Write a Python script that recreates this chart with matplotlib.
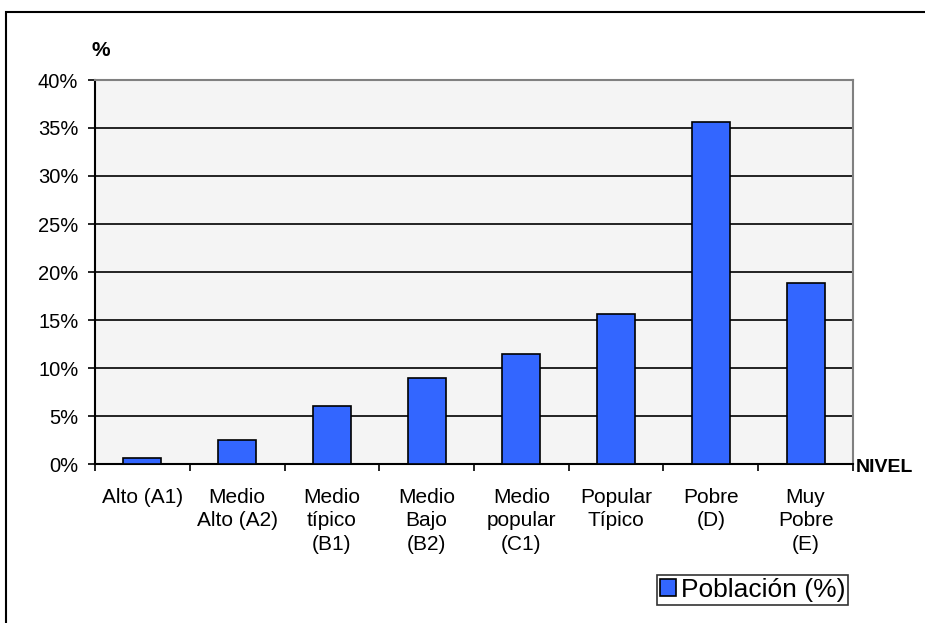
import matplotlib.pyplot as plt
import numpy as np
from matplotlib.patches import Rectangle

plt.rcParams['font.family'] = ['Liberation Sans', 'DejaVu Sans']

# niveles socioeconomicos y porcentaje de poblacion
niveles = ['Alto (A1)', 'Medio\nAlto (A2)', 'Medio\ntípico\n(B1)', 'Medio\nBajo\n(B2)',
           'Medio\npopular\n(C1)', 'Popular\nTípico', 'Pobre\n(D)', 'Muy\nPobre\n(E)']
poblacion = [0.6, 2.5, 6.0, 9.0, 11.5, 15.6, 35.6, 18.9]
yticks = [0, 5, 10, 15, 20, 25, 30, 35, 40]

fig = plt.figure(figsize=(9.25, 6.23), dpi=100)
ax = fig.add_axes([95 / 925, 1 - 464 / 623, 758 / 925, 384 / 623])

# outer chart border (clipped on right/bottom as in the original)
fig.patches.append(Rectangle((6 / 925, -0.1), 1.2, 1 - 12 / 623 + 0.1,
                             transform=fig.transFigure, fill=False,
                             edgecolor='black', linewidth=1.5))

x = np.arange(len(niveles))
ax.set_facecolor('#F4F4F4')
ax.set_axisbelow(True)
ax.yaxis.grid(True, color='black', linewidth=1.2)
ax.bar(x, poblacion, width=0.4, color='#3366FF', edgecolor='black',
       linewidth=1.2, label='Población (%)', zorder=3)

ax.set_xlim(-0.5, len(niveles) - 0.5)
ax.set_ylim(0, 40)
ax.set_yticks(yticks)
ax.set_yticklabels(['%d%%' % v for v in yticks], fontsize=14.5)

# ticks at category boundaries, labels centred
ax.set_xticks(np.arange(-0.5, len(niveles)), minor=False)
ax.set_xticklabels([])
ax.set_xticks(x, minor=True)
ax.set_xticklabels(niveles, minor=True, fontsize=15, va='top', linespacing=1.3)
ax.tick_params(axis='x', which='major', direction='out', length=5, width=1.2)
ax.tick_params(axis='x', which='minor', length=0, pad=17)
ax.tick_params(axis='y', direction='out', length=5, width=1.2, pad=7)

for s in ['top', 'right']:
    ax.spines[s].set_color('#808080')
    ax.spines[s].set_linewidth(1.5)
for s in ['left', 'bottom']:
    ax.spines[s].set_color('black')
    ax.spines[s].set_linewidth(1.5)

fig.text(101 / 925, 1 - 51 / 623, '%', fontsize=15, fontweight='bold',
         ha='center', va='center')
fig.text(884 / 925, 1 - 467 / 623, 'NIVEL', fontsize=14, fontweight='bold',
         ha='center', va='center')

leg = fig.legend(loc='center right', bbox_to_anchor=(848 / 925, 1 - 590 / 623),
                 fontsize=19, frameon=True, fancybox=False, handlelength=0.6,
                 handleheight=0.6, handletextpad=0.2, borderpad=0.1,
                 borderaxespad=0)
leg.get_frame().set_edgecolor('black')
leg.get_frame().set_linewidth(1.2)

fig.savefig('out.png', dpi=100)
